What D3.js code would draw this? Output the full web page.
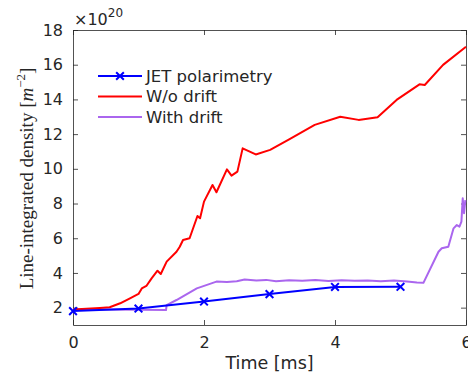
<!DOCTYPE html>
<html>
<head>
<meta charset="utf-8">
<script src="https://cdn.jsdelivr.net/npm/d3@7"></script>
<style>
  body { margin: 0; background: #fff; }
  svg text { font-family: "DejaVu Sans", sans-serif; fill: #262626; }
</style>
</head>
<body>
<svg id="chart" width="468" height="376"></svg>
<script>
"use strict";

// JET polarimetry measurements
const jetTime = [0, 1, 2, 3, 4, 5];
const jetDensity = [1.8, 1.95, 2.35, 2.78, 3.19, 3.2];

// simulation without drift
const noDriftTime = [0, 0.41, 0.56, 0.72, 0.87, 1.0, 1.05, 1.12, 1.2, 1.29, 1.34, 1.43, 1.58, 1.63, 1.68, 1.78,
    1.9, 1.94, 2.0, 2.13, 2.19, 2.35, 2.42, 2.51, 2.59, 2.79, 3.01, 3.3, 3.69, 4.08, 4.36, 4.65, 4.94,
    5.29, 5.37, 5.65, 6.0];
const noDriftDensity = [1.9, 1.98, 2.02, 2.25, 2.54, 2.79, 3.11, 3.25, 3.69, 4.13, 3.94, 4.65, 5.22, 5.51, 5.9, 6.0,
    7.28, 7.15, 8.11, 9.07, 8.65, 9.97, 9.61, 9.84, 11.18, 10.83, 11.09, 11.7, 12.53, 13.0, 12.82, 12.97, 13.97,
    14.87, 14.83, 15.99, 17.04];

// simulation with drift
const driftTime = [0, 0.5, 1.0, 1.42, 1.43, 1.58, 1.89, 2.19, 2.35, 2.5, 2.62, 2.8, 2.95, 3.1, 3.3, 3.5, 3.7,
    3.9, 4.1, 4.3, 4.5, 4.7, 4.9, 5.1, 5.25, 5.35, 5.58, 5.63, 5.73, 5.81, 5.86, 5.9, 5.93, 5.95, 5.97, 5.99];
const driftDensity = [1.9, 1.9, 1.88, 1.86, 2.15, 2.44, 3.11, 3.5, 3.48, 3.52, 3.62, 3.56, 3.6, 3.52, 3.58, 3.55, 3.6,
    3.54, 3.58, 3.55, 3.57, 3.52, 3.56, 3.5, 3.45, 3.43, 5.22, 5.42, 5.51, 6.57, 6.76, 6.67, 6.96, 8.3, 7.44, 8.2];

const seriesNames = ["JET polarimetry", "W/o drift", "With drift"];
const seriesColors = ["#0000ff", "#ff0000", "#aa66ee"];
const xTicks = [0, 2, 4, 6];
const yTicks = [2, 4, 6, 8, 10, 12, 14, 16, 18];

const plotLeft = 73, plotRight = 466, plotTop = 30, plotBottom = 325;

const svg = d3.select("#chart");
const xScale = d3.scaleLinear().domain([0, 6]).range([plotLeft, plotRight]);
const yScale = d3.scaleLinear().domain([1, 18]).range([plotBottom, plotTop]);

// axes with inward ticks, mirrored on top and right
svg.append("g")
    .attr("transform", `translate(0,${plotBottom})`)
    .call(d3.axisBottom(xScale).tickValues(xTicks).tickFormat(d3.format("d"))
        .tickSize(-5).tickPadding(12).tickSizeOuter(0))
    .call(g => g.selectAll("text").attr("font-size", 16).attr("dy", "0.71em"));
svg.append("g")
    .attr("transform", `translate(${plotLeft},0)`)
    .call(d3.axisLeft(yScale).tickValues(yTicks).tickFormat(d3.format("d"))
        .tickSize(-5).tickPadding(10).tickSizeOuter(0))
    .call(g => g.selectAll("text").attr("font-size", 16));
svg.append("g")
    .attr("transform", `translate(0,${plotTop})`)
    .call(d3.axisTop(xScale).tickValues(xTicks).tickSize(-5).tickFormat("").tickSizeOuter(0));
svg.append("g")
    .attr("transform", `translate(${plotRight},0)`)
    .call(d3.axisRight(yScale).tickValues(yTicks).tickSize(-5).tickFormat("").tickSizeOuter(0));
svg.selectAll(".domain, .tick line").attr("stroke", "#262626").attr("stroke-width", 0.8);
svg.selectAll("g text").attr("fill", "#262626").attr("font-family", "DejaVu Sans, sans-serif");

// exponent label
const expo = svg.append("text").attr("x", plotLeft + 1).attr("y", 25).attr("font-size", 16);
expo.append("tspan").text("\u00d710");
expo.append("tspan").attr("dy", -8).attr("font-size", 12).text("20");

// axis titles
svg.append("text")
    .attr("x", (plotLeft + plotRight) / 2).attr("y", 369)
    .attr("text-anchor", "middle").attr("font-size", 17.5)
    .text("Time [ms]");

const yl = svg.append("text")
    .attr("transform", `translate(33,${(plotTop + plotBottom) / 2 + 1}) rotate(-90)`)
    .attr("text-anchor", "middle")
    .attr("font-size", 19)
    .style("font-family", "Liberation Serif, serif");
yl.append("tspan").text("Line-integrated density [");
yl.append("tspan").attr("font-style", "italic").text("m");
yl.append("tspan").attr("dy", -8).attr("font-size", 13).text("\u22122");
yl.append("tspan").attr("dy", 8).text("]");

const line = d3.line().x(d => xScale(d[0])).y(d => yScale(d[1]));

svg.append("path")
    .datum(d3.zip(driftTime, driftDensity))
    .attr("d", line).attr("fill", "none")
    .attr("stroke", seriesColors[2]).attr("stroke-width", 2).attr("stroke-linejoin", "round");
svg.append("path")
    .datum(d3.zip(noDriftTime, noDriftDensity))
    .attr("d", line).attr("fill", "none")
    .attr("stroke", seriesColors[1]).attr("stroke-width", 2).attr("stroke-linejoin", "round");
svg.append("path")
    .datum(d3.zip(jetTime, jetDensity))
    .attr("d", line).attr("fill", "none")
    .attr("stroke", seriesColors[0]).attr("stroke-width", 2);

const cross = d3.symbol().type(d3.symbolX).size(40);
svg.selectAll("path.marker")
    .data(d3.zip(jetTime, jetDensity))
    .join("path")
    .attr("class", "marker")
    .attr("d", cross)
    .attr("transform", d => `translate(${xScale(d[0])},${yScale(d[1])})`)
    .attr("fill", "none").attr("stroke", seriesColors[0]).attr("stroke-width", 2);

// legend
const legend = svg.append("g");
seriesNames.forEach(function(name, i) {
    let y = 76 + i * 20.5;
    legend.append("line")
        .attr("x1", 98).attr("x2", 142).attr("y1", y).attr("y2", y)
        .attr("stroke", seriesColors[i]).attr("stroke-width", 2);
    if (i === 0) {
        legend.append("path").attr("d", cross)
            .attr("transform", `translate(120,${y})`)
            .attr("fill", "none").attr("stroke", seriesColors[0]).attr("stroke-width", 2);
    }
    legend.append("text")
        .attr("x", 146).attr("y", y).attr("dy", "0.35em")
        .attr("font-size", 16.5).text(name);
});
</script>
</body>
</html>
